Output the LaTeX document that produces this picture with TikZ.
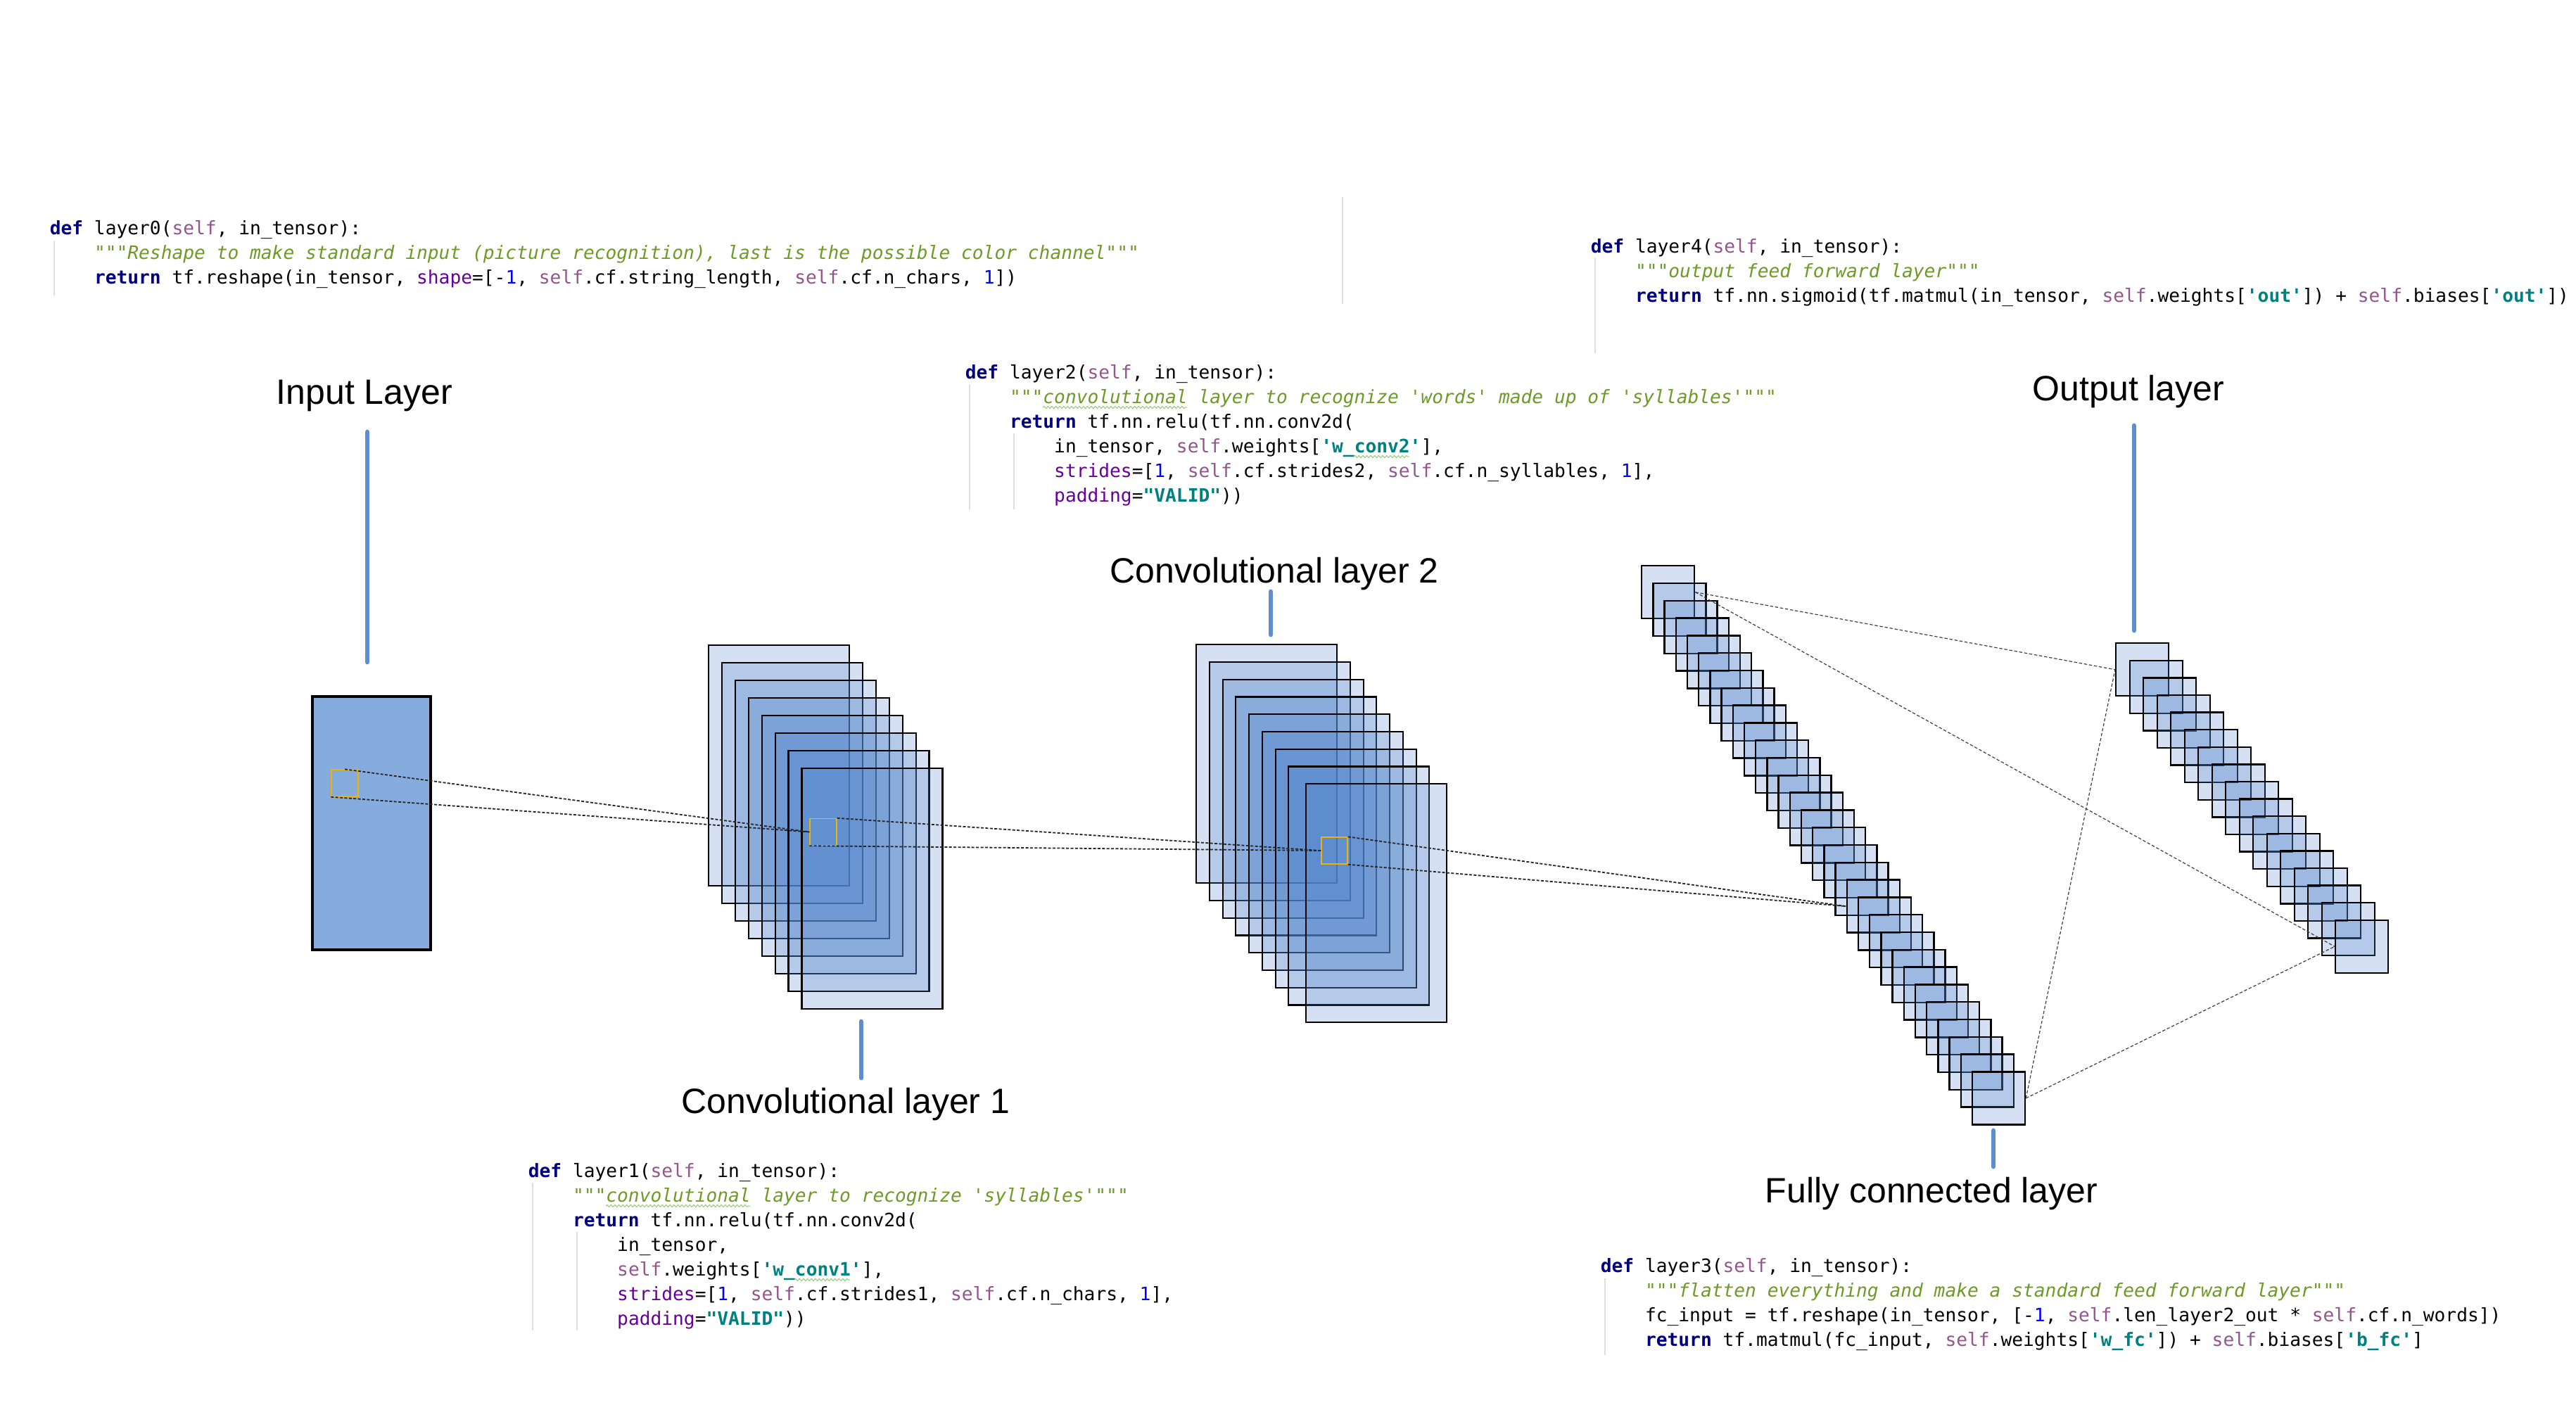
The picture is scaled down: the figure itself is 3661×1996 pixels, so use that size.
\documentclass[tikz,border=0pt]{standalone}
\usepackage{fontspec}
\setmainfont{Liberation Sans}
\newfontfamily\codefont[Ligatures=TeXOff]{DejaVu Sans Mono}
\usetikzlibrary{decorations.pathmorphing}
\definecolor{kwc}{RGB}{0,0,128}
\definecolor{selfc}{RGB}{148,85,141}
\definecolor{docc}{RGB}{110,155,40}
\definecolor{numc}{RGB}{0,0,255}
\definecolor{argc}{RGB}{102,0,153}
\definecolor{strc}{RGB}{0,128,128}
\definecolor{tickblue}{RGB}{92,142,208}
\definecolor{stackblue}{RGB}{81,132,204}
\definecolor{inblue}{RGB}{134,172,222}
\definecolor{focusc}{RGB}{240,180,0}
\definecolor{guidec}{RGB}{222,222,222}
\definecolor{wavyc}{RGB}{150,200,120}
\newcommand\ckw[1]{\textcolor{kwc}{\bfseries #1}}
\newcommand\cslf{\textcolor{selfc}{self}}
\newcommand\cnum[1]{\textcolor{numc}{#1}}
\newcommand\cdoc[1]{\textcolor{docc}{\itshape #1}}
\newcommand\carg[1]{\textcolor{argc}{#1}}
\newcommand\cstr[1]{\textcolor{strc}{\bfseries #1}}
\begin{document}
\begin{tikzpicture}[x=0.25pt,y=-0.25pt,
  code/.style={anchor=base west, inner sep=0pt, font=\codefont\fontsize{6.56}{8.75}\selectfont},
  lbl/.style={inner sep=0pt, font=\fontsize{12.5}{15}\selectfont},
  tick/.style={draw=tickblue, line width=1.7pt, line cap=round},
  layerrect/.style={draw=black, fill=stackblue, fill opacity=0.24, line width=0.6pt, inner sep=0pt, anchor=north west},
  convrect/.style={layerrect, minimum width=50pt, minimum height=85.5pt},
  convrectb/.style={layerrect, minimum width=50pt, minimum height=84.75pt},
  sqr/.style={layerrect, minimum width=18.75pt, minimum height=18.75pt},
  inrect/.style={draw=black, fill=inblue, line width=0.9pt, inner sep=0pt, minimum width=42pt, minimum height=90pt},
  focusbox/.style={draw=focusc, line width=0.35pt, inner sep=0pt, minimum width=9.5pt, minimum height=9.5pt},
  rf/.style={draw=black!85, line width=0.45pt, dash pattern=on 1pt off 0.6pt},
  fcl/.style={draw=black!75, line width=0.3pt, dash pattern=on 1.1pt off 0.7pt},
  guideline/.style={draw=guidec, line width=0.3pt},
  wav/.style={draw=wavyc, line width=0.25pt, decorate, decoration={snake, amplitude=0.4pt, segment length=1.4pt}}
]
\fill[white] (0,0) rectangle (3661,1996);
\useasboundingbox (0,0) rectangle (3661,1996);

% input layer
\node[inrect] (inp) at (528,1170) {};

% conv layer 1
\foreach \i in {0,...,7}
  \node[convrect] (ca\i) at ({1006+18.9*\i},{916+25*\i}) {};

% conv layer 2
\foreach \i/\xx in {0/1699,1/1718,2/1737,3/1755,4/1774,5/1793,6/1812,7/1830,8/1855}
  \node[convrectb] (cb\i) at (\xx,{915+24.75*\i}) {};

% fully connected layer
\foreach \i in {0,...,29}
  \node[sqr] (fc\i) at ({2332+16.2*\i},{803+24.8*\i}) {};

% output layer
\foreach \i in {0,...,16}
  \node[sqr] (out\i) at ({3006+19.5*\i},{913+24.6*\i}) {};

% receptive fields
\node[focusbox] (y0) at (490,1113) {};
\node[focusbox] (y1) at (1170,1182.5) {};
\node[focusbox, minimum width=9.25pt] (y2) at (1896.5,1209) {};

\draw[rf] (y0.north) -- (y1.west);
\draw[rf] (y0.south west) -- (y1.west);
\draw[rf] (y1.north east) -- (y2.west);
\draw[rf] (y1.south west) -- (y2.west);
\draw[rf] (y2.north east) -- (fc18.west);
\draw[rf] (y2.south east) -- (fc18.west);

\draw[fcl] (fc0.east) -- (out0.west);
\draw[fcl] (fc0.east) -- (out16.west);
\draw[fcl] (fc29.east) -- (out0.west);
\draw[fcl] (fc29.east) -- (out16.west);

% labels and leader ticks
\node[lbl] (linp) at (518,562) {Input Layer};
\node[lbl] (lc2) at (1811,816) {Convolutional layer 2};
\node[lbl] (lc1) at (1202,1570) {Convolutional layer 1};
\node[lbl] (lout) at (3025,557) {Output layer};
\node[lbl] (lfc) at (2745,1697) {Fully connected layer};

\coordinate (tia) at (522,614);  \coordinate (tib) at (522,941);
\coordinate (tca) at (1806,841); \coordinate (tcb) at (1806,902);
\coordinate (tda) at (1224,1452); \coordinate (tdb) at (1224,1532);
\coordinate (toa) at (3033,605); \coordinate (tob) at (3033,896);
\coordinate (tfa) at (2833,1607); \coordinate (tfb) at (2833,1658);
\draw[tick] (tia) -- (tib);
\draw[tick] (tca) -- (tcb);
\draw[tick] (tda) -- (tdb);
\draw[tick] (toa) -- (tob);
\draw[tick] (tfa) -- (tfb);

% indent guides
\draw[guideline] (77,343) -- (77,420);
\draw[guideline] (1908,280) -- (1908,432);
\draw[guideline] (2267,367) -- (2267,502);
\draw[guideline] (1378,546) -- (1378,724);
\draw[guideline] (1441,616) -- (1441,724);
\draw[guideline] (757,1681) -- (757,1891);
\draw[guideline] (820,1751) -- (820,1891);
\draw[guideline] (2281,1817) -- (2281,1926);

% layer0 code
\node[code] (a1) at (70,333) {\ckw{def} layer0(\cslf, in\_tensor):};
\node[code] (a2) at (133.2,368) {\cdoc{"""Reshape to make standard input (picture recognition), last is the possible color channel"""}};
\node[code] (a3) at (133.2,403) {\ckw{return} tf.reshape(in\_tensor, \carg{shape}=[-\cnum{1}, \cslf.cf.string\_length, \cslf.cf.n\_chars, \cnum{1}])};

% layer4 code
\node[code] (e1) at (2260,359) {\ckw{def} layer4(\cslf, in\_tensor):};
\node[code] (e2) at (2323.2,394) {\cdoc{"""output feed forward layer"""}};
\node[code] (e3) at (2323.2,429) {\ckw{return} tf.nn.sigmoid(tf.matmul(in\_tensor, \cslf.weights[\cstr{'out'}]) + \cslf.biases[\cstr{'out'}])};

% layer2 code
\node[code] (c1) at (1371,538) {\ckw{def} layer2(\cslf, in\_tensor):};
\node[code] (c2) at (1434.2,573) {\cdoc{"""convolutional layer to recognize 'words' made up of 'syllables'"""}};
\node[code] (c3) at (1434.2,608) {\ckw{return} tf.nn.relu(tf.nn.conv2d(};
\node[code] (c4) at (1497.4,643) {in\_tensor, \cslf.weights[\cstr{'w\_conv2'}],};
\node[code] (c5) at (1497.4,678) {\carg{strides}=[\cnum{1}, \cslf.cf.strides2, \cslf.cf.n\_syllables, \cnum{1}],};
\node[code] (c6) at (1497.4,713) {\carg{padding}=\cstr{"VALID"}))};

% layer1 code
\node[code] (b1) at (750,1673) {\ckw{def} layer1(\cslf, in\_tensor):};
\node[code] (b2) at (813.2,1708) {\cdoc{"""convolutional layer to recognize 'syllables'"""}};
\node[code] (b3) at (813.2,1743) {\ckw{return} tf.nn.relu(tf.nn.conv2d(};
\node[code] (b4) at (876.4,1778) {in\_tensor,};
\node[code] (b5) at (876.4,1813) {\cslf.weights[\cstr{'w\_conv1'}],};
\node[code] (b6) at (876.4,1848) {\carg{strides}=[\cnum{1}, \cslf.cf.strides1, \cslf.cf.n\_chars, \cnum{1}],};
\node[code] (b7) at (876.4,1883) {\carg{padding}=\cstr{"VALID"}))};

% layer3 code
\node[code] (d1) at (2274,1808) {\ckw{def} layer3(\cslf, in\_tensor):};
\node[code] (d2) at (2337.2,1843) {\cdoc{"""flatten everything and make a standard feed forward layer"""}};
\node[code] (d3) at (2337.2,1878) {fc\_input = tf.reshape(in\_tensor, [-\cnum{1}, \cslf.len\_layer2\_out * \cslf.cf.n\_words])};
\node[code] (d4) at (2337.2,1913) {\ckw{return} tf.matmul(fc\_input, \cslf.weights[\cstr{'w\_fc'}]) + \cslf.biases[\cstr{'b\_fc'}]};

% spell-check underlines
\draw[wav] (1482,579) -- (1687,579);
\draw[wav] (861,1714) -- (1066,1714);
\draw[wav] (1924,649) -- (2003,649);
\draw[wav] (1129,1819) -- (1208,1819);
\end{tikzpicture}
\end{document}
